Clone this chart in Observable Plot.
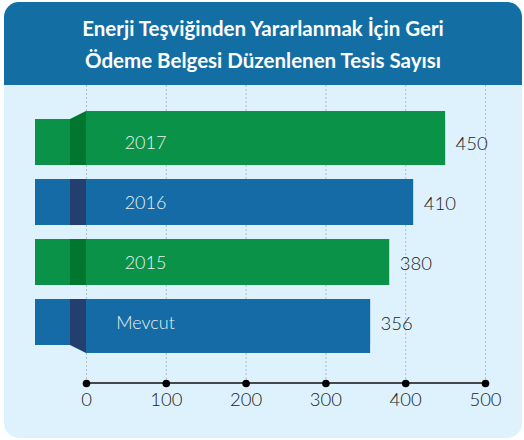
<!DOCTYPE html>
<html>
<head>
<meta charset="utf-8">
<script src="https://cdn.jsdelivr.net/npm/d3@7"></script>
<script src="https://cdn.jsdelivr.net/npm/@observablehq/plot@0.6"></script>
<style>
  html, body { margin: 0; padding: 0; background: #ffffff; }
  #card {
    position: absolute; left: 4px; top: 2px; width: 518px;
    border-radius: 15px; overflow: hidden; background: #ddf2fc;
  }
  #header {
    background: #136ea4; color: #ffffff; text-align: center;
    font-family: Lato, "Open Sans", sans-serif; font-weight: 700;
    font-size: 20.5px; line-height: 32px; padding: 10px 0 9px 0; height: 64px;
  }
  #chart svg { display: block; }
</style>
</head>
<body>
<div id="card">
  <div id="header">Enerji Teşviğinden Yararlanmak İçin Geri<br>Ödeme Belgesi Düzenlenen Tesis Sayısı</div>
  <div id="chart"></div>
</div>
<script>
const categories = ["2017", "2016", "2015", "Mevcut"];
const values = [450, 410, 380, 356];
const tickValues = [0, 100, 200, 300, 400, 500];

const green = "#0a9249", darkGreen = "#00772f";
const blue = "#146ba5", darkBlue = "#233f70";

const data = categories.map((c, i) => ({cat: c, value: values[i], idx: i}));
const fillOf = d => d.idx % 2 === 0 ? green : blue;
const darkOf = d => d.idx % 2 === 0 ? darkGreen : darkBlue;

// dark "fold" segments
const foldMark = (index, scales, vals, dims) => {
  const {x, y} = scales;
  const bw = y.bandwidth();
  const g = d3.create("svg:g");
  data.forEach((d, i) => {
    const x1 = x(0) - 16, x2 = x(0);
    const y0 = y(d.cat), y1 = y0 + bw;
    const up = i === 0 ? 8 : 0;
    const down = i === data.length - 1 ? 8 : 0;
    const pts = [[x1, y0], [x2, y0 - up], [x2, y1 + down], [x1, y1]];
    g.append("polygon").attr("points", pts.map(p => p.join(",")).join(" ")).attr("fill", darkOf(d));
  });
  return g.node();
};
const axisLine = (index, scales, vals, dims) => {
  const {x} = scales;
  const yy = dims.height - dims.marginBottom;
  return d3.create("svg:line")
    .attr("x1", x(tickValues[0])).attr("x2", x(tickValues[tickValues.length - 1]))
    .attr("y1", yy).attr("y2", yy)
    .attr("stroke", "#111").attr("stroke-width", 1.6).node();
};

const chart = Plot.plot({
  width: 518,
  height: 353,
  marginLeft: 82,
  marginRight: 37,
  marginTop: 0,
  marginBottom: 55,
  style: {background: "transparent", fontFamily: "Lato, 'Open Sans', sans-serif", overflow: "visible"},
  x: {domain: [0, 500], axis: null},
  y: {domain: categories, range: [33, 260], paddingInner: 0.2376, paddingOuter: 0, axis: null},
  marks: [
    Plot.ruleX(tickValues, {x: d => d, stroke: "#b3bec7", strokeWidth: 1, strokeDasharray: "2,2"}),
    Plot.barX(data, {x: "value", y: "cat", fill: fillOf, insetLeft: -51}),
    Plot.barX(data, {filter: d => d.idx === 0, x: "value", y: "cat", fill: fillOf, insetTop: -8}),
    Plot.barX(data, {filter: d => d.idx === data.length - 1, x: "value", y: "cat", fill: fillOf, insetBottom: -8}),
    foldMark,
    Plot.text(data, {x: d => 0, y: "cat", text: "cat", dx: 59, dy: 1, fill: "#e8f1ee", fontSize: 18, fontWeight: 300}),
    Plot.text(data, {x: "value", y: "cat", text: d => String(d.value), textAnchor: "start", dx: 10, dy: 2, fill: "#222222", fontSize: 18.5, fontWeight: 300}),
    axisLine,
    Plot.dot(tickValues, {x: d => d, frameAnchor: "bottom", r: 3.8, fill: "#000000", stroke: null}),
    Plot.text(tickValues, {x: d => d, frameAnchor: "bottom", dy: 22, text: d => String(d), fill: "#222222", fontSize: 18.5, fontWeight: 300})
  ]
});
document.getElementById("chart").appendChild(chart);
</script>
</body>
</html>
